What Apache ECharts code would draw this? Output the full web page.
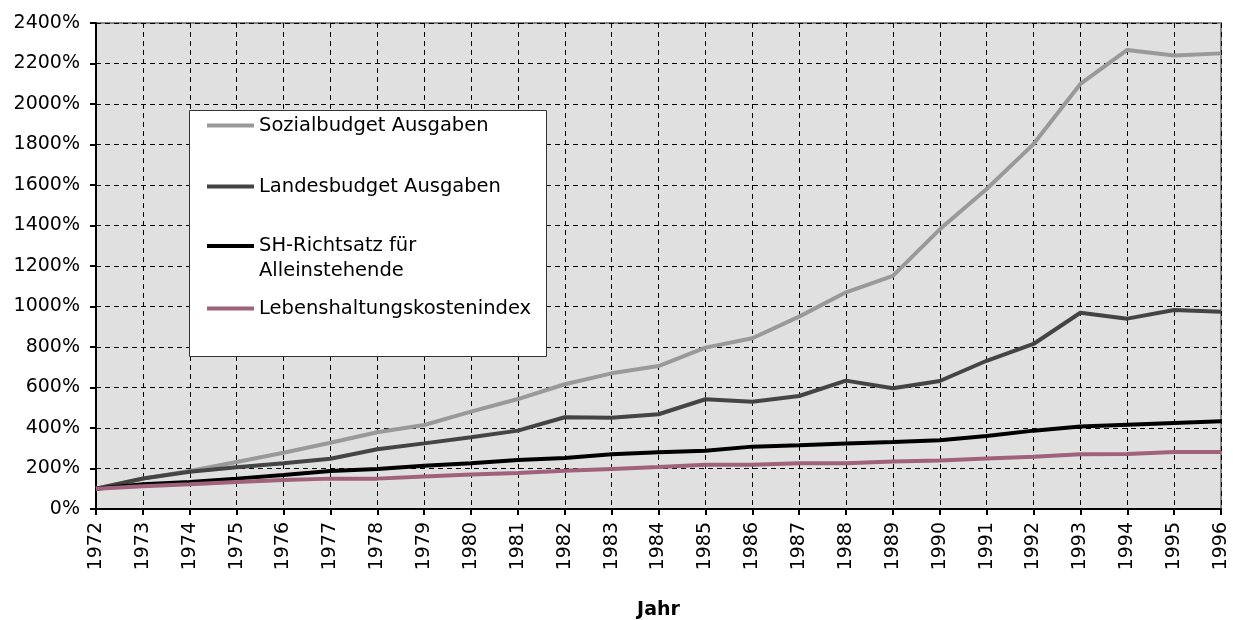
<!DOCTYPE html>
<html>
<head>
<meta charset="utf-8">
<script src="https://cdn.jsdelivr.net/npm/echarts@6/dist/echarts.min.js"></script>
<style>
html,body{margin:0;padding:0;background:#fff;}
#chart{width:1233px;height:620px;}
</style>
</head>
<body>
<div id="chart"></div>
<script>
var years = ['1972','1973','1974','1975','1976','1977','1978','1979','1980','1981','1982','1983','1984','1985','1986','1987','1988','1989','1990','1991','1992','1993','1994','1995','1996'];
var sozialbudget = [100,150,188,232,278,327,379,415,481,543,616,670,706,797,843,950,1070,1151,1381,1580,1802,2099,2267,2239,2250];
var landesbudget = [100,151,184,206,226,248,295,324,354,387,453,451,468,542,530,558,634,596,632,732,815,969,940,983,974];
var shRichtsatz = [100,122,133,150,168,188,198,214,226,242,252,270,280,288,308,315,324,331,339,360,387,407,416,425,433];
var lebenshaltung = [100,112,122,133,143,150,150,160,170,178,189,198,207,219,219,226,226,234,240,249,258,270,272,281,281];
var seriesNames = ['Sozialbudget Ausgaben','Landesbudget Ausgaben','SH-Richtsatz für\nAlleinstehende','Lebenshaltungskostenindex'];
var seriesColors = ['#999999','#444444','#000000','#a0617b'];

var FONT = 'DejaVu Sans';
var chart = echarts.init(document.getElementById('chart'), null, {renderer:'canvas'});
var dataSets = [sozialbudget, landesbudget, shRichtsatz, lebenshaltung];

function legendFor(i, top, blankFirstLine) {
  return {
    data:[seriesNames[i]], left:207, top:top, padding:0, orient:'vertical', z:10,
    icon:'rect', itemWidth:47, itemHeight:4, itemGap:0,
    selectedMode:false,
    formatter: blankFirstLine ? function(n){ return '\u00a0\n' + n; } : '{name}',
    textStyle:{color:'#000', fontFamily:FONT, fontSize:19.5, lineHeight:25}
  };
}

chart.setOption({
  backgroundColor:'#fff',
  animation:false,
  grid:{left:96, right:12, top:23, bottom:111, outerBoundsMode:'none', containLabel:false,
        show:true, backgroundColor:'#e0e0e0', borderColor:'#888', borderWidth:2},
  graphic:[{type:'rect', left:189, top:110, z:4, shape:{width:357, height:246}, style:{fill:'#fff', stroke:'#333', lineWidth:1}}],
  legend:[legendFor(0,113), legendFor(1,174), legendFor(2,208.5,true), legendFor(3,296)],
  xAxis:{
    type:'category', data:years, boundaryGap:false,
    name:'Jahr', nameLocation:'middle', nameGap:92,
    nameTextStyle:{fontFamily:FONT, fontSize:19, fontWeight:'bold', color:'#000'},
    axisLine:{lineStyle:{color:'#000', width:2}},
    axisTick:{show:true, length:6, lineStyle:{color:'#000', width:2}},
    axisLabel:{rotate:90, fontFamily:FONT, fontSize:19, color:'#000', margin:13, interval:0},
    splitLine:{show:true, lineStyle:{color:'#000', width:1, type:[5,4]}}
  },
  yAxis:{
    type:'value', min:0, max:2400, interval:200,
    axisLine:{show:true, lineStyle:{color:'#000', width:2}},
    axisTick:{show:true, length:6, lineStyle:{color:'#000', width:2}},
    axisLabel:{formatter:function(v){return v + '%';}, fontFamily:FONT, fontSize:19, color:'#000', margin:16},
    splitLine:{show:true, lineStyle:{color:'#000', width:1, type:[5,4]}}
  },
  series: dataSets.map(function(d,i){
    return {name:seriesNames[i], type:'line', data:d, symbol:'none', z:3,
      lineStyle:{color:seriesColors[i], width:4}, itemStyle:{color:seriesColors[i]}};
  })
});
</script>
</body>
</html>
